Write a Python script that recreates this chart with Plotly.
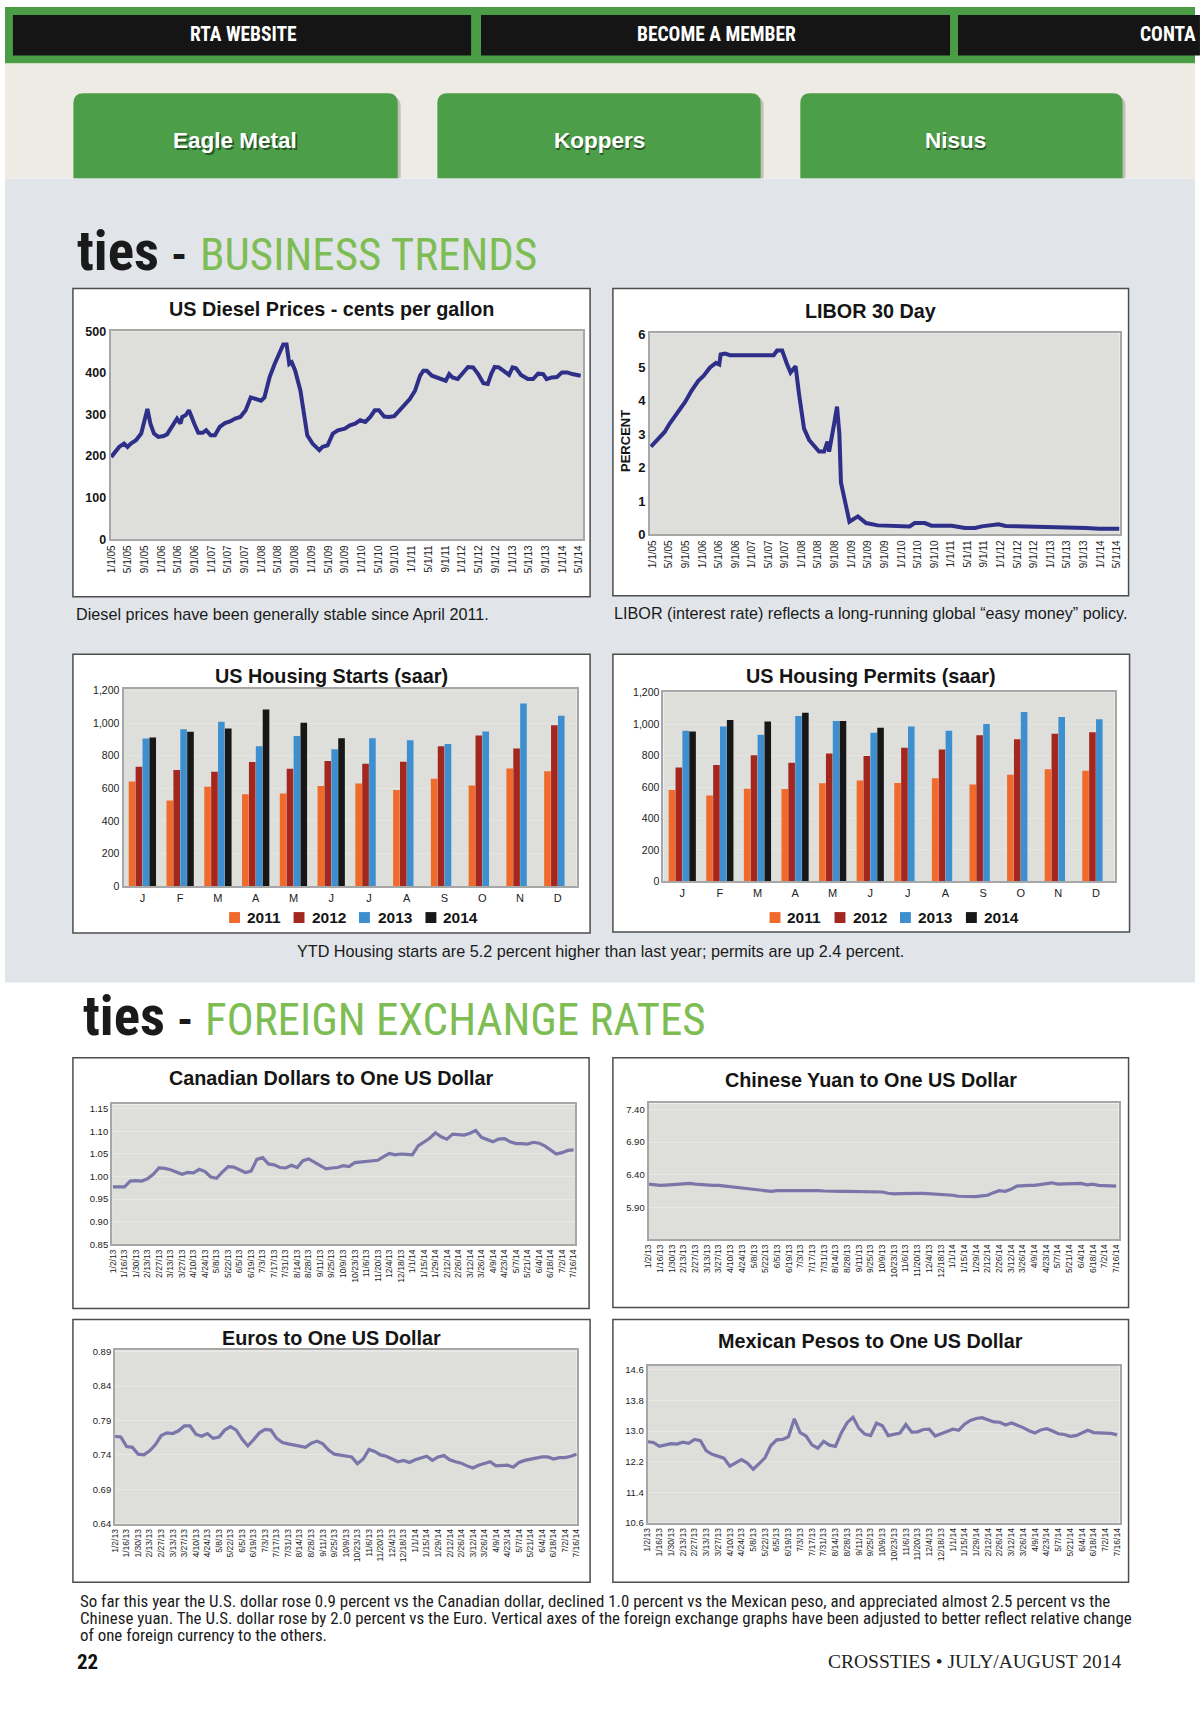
import plotly.graph_objects as go
import pandas as pd

W, H = 1200, 1729
SANS = "Liberation Sans, Arial, Helvetica, sans-serif"
NARROW = "Liberation Sans Narrow, Roboto Condensed, DejaVu Sans Condensed, Liberation Sans, sans-serif"
SERIF = "Liberation Serif, Times New Roman, serif"

# ---------------- data ----------------
diesel_dates = [
    "2005-01-01", "2005-02-03", "2005-02-27", "2005-04-04", "2005-04-29", "2005-05-24", "2005-06-30",
    "2005-08-07", "2005-09-01", "2005-09-21", "2005-10-13", "2005-11-08", "2005-12-10",
    "2006-01-17", "2006-02-11", "2006-03-18", "2006-04-25", "2006-05-20", "2006-06-02", "2006-06-26",
    "2006-07-21", "2006-08-28", "2006-09-27", "2006-10-29", "2006-11-23", "2006-12-26",
    "2007-01-26", "2007-03-02", "2007-04-09", "2007-05-16", "2007-06-23", "2007-07-30", "2007-09-07",
    "2007-10-14", "2007-11-20", "2007-12-28",
    "2008-01-22", "2008-02-28", "2008-04-05", "2008-05-12", "2008-06-07", "2008-07-01", "2008-07-21",
    "2008-08-08", "2008-09-02", "2008-10-10", "2008-11-04", "2008-11-29",
    "2009-01-06", "2009-02-25", "2009-03-19", "2009-04-26", "2009-06-03", "2009-07-10", "2009-08-29",
    "2009-10-06", "2009-11-12", "2009-12-19",
    "2010-01-26", "2010-03-03", "2010-04-05", "2010-05-05", "2010-06-12", "2010-07-18", "2010-08-25",
    "2010-10-02", "2010-11-09", "2010-12-16",
    "2011-01-23", "2011-03-01", "2011-03-25", "2011-04-19", "2011-05-26", "2011-07-15", "2011-09-04",
    "2011-09-29", "2011-10-23", "2011-11-30",
    "2012-01-07", "2012-02-13", "2012-03-21", "2012-04-27", "2012-06-04", "2012-07-06", "2012-07-31",
    "2012-08-25", "2012-09-25", "2012-11-01", "2012-12-08",
    "2013-01-03", "2013-01-28", "2013-03-05", "2013-04-24", "2013-06-01", "2013-07-08", "2013-08-14",
    "2013-09-08", "2013-10-16", "2013-11-22", "2013-12-29",
    "2014-02-05", "2014-03-13", "2014-04-20", "2014-05-14",
]
diesel_cents = [
    198, 210, 222, 230, 222, 230, 238, 254, 286, 313, 278, 254, 246,
    248, 252, 270, 290, 278, 294, 298, 310, 278, 256, 256, 262, 250,
    250, 270, 279, 283, 290, 294, 310, 341, 337, 333,
    341, 389, 421, 452, 468, 468, 421, 425, 405, 357, 302, 250,
    230, 214, 222, 226, 254, 262, 266, 274, 278, 286,
    282, 294, 310, 310, 295, 294, 296, 310, 321, 337,
    357, 393, 405, 405, 393, 387, 381, 397, 389, 385,
    401, 414, 413, 397, 375, 373, 397, 414, 413, 403, 395,
    413, 411, 395, 385, 385, 398, 397, 385, 389, 390, 401,
    401, 397, 395, 393,
]

libor_dates = [
    "2004-12-20", "2005-02-24", "2005-03-31", "2005-05-07", "2005-06-26", "2005-08-27", "2005-10-15",
    "2005-12-03", "2006-01-10", "2006-02-27", "2006-04-12", "2006-05-06", "2006-05-16", "2006-06-17",
    "2006-07-24", "2006-11-01", "2007-03-02", "2007-06-09", "2007-07-04", "2007-08-10", "2007-09-16",
    "2007-10-11", "2007-10-30", "2007-11-17", "2007-12-12", "2007-12-29", "2008-01-18", "2008-02-24",
    "2008-04-01", "2008-05-07", "2008-06-13", "2008-07-08", "2008-07-20", "2008-08-07", "2008-08-26",
    "2008-09-16", "2008-10-03", "2008-10-15", "2008-11-09", "2008-12-16", "2009-02-16", "2009-04-17",
    "2009-07-12", "2009-11-13", "2010-03-03", "2010-04-09", "2010-06-22", "2010-08-10", "2011-01-06",
    "2011-04-13", "2011-06-26", "2011-08-14", "2011-10-27", "2011-12-16", "2012-02-04", "2012-07-24",
    "2013-03-27", "2013-09-17", "2013-12-24", "2014-05-20",
]
libor_pct = [
    2.63, 2.91, 3.07, 3.32, 3.62, 3.96, 4.31, 4.60, 4.75, 5.00,
    5.14, 5.09, 5.39, 5.42, 5.37, 5.37, 5.37, 5.37, 5.51, 5.51,
    5.09, 4.85, 4.95, 5.04, 4.21, 3.71, 3.17, 2.83, 2.63, 2.48,
    2.48, 2.78, 2.48, 2.83, 3.32, 3.83, 3.03, 1.55, 1.05, 0.38,
    0.54, 0.34, 0.27, 0.24, 0.24, 0.34, 0.34, 0.26, 0.26, 0.19,
    0.19, 0.24, 0.27, 0.30, 0.25, 0.24, 0.22, 0.19, 0.17, 0.17,
]

months = ["Jan", "Feb", "Mar", "Apr", "May", "Jun", "Jul", "Aug", "Sep", "Oct", "Nov", "Dec"]
month_letters = ["J", "F", "M", "A", "M", "J", "J", "A", "S", "O", "N", "D"]
years = ["2011", "2012", "2013", "2014"]
year_colors = ["#ef6a2b", "#a3271f", "#3e8fd0", "#171717"]

starts_2011 = [641, 525, 610, 563, 569, 614, 630, 590, 659, 618, 722, 704]
starts_2012 = [732, 712, 702, 761, 720, 767, 750, 763, 858, 923, 844, 986]
starts_2013 = [905, 962, 1007, 858, 921, 840, 907, 895, 872, 948, 1119, 1045]
starts_2014 = [911, 946, 966, 1082, 1001, 907, None, None, None, None, None, None]

permits_2011 = [582, 547, 589, 587, 624, 641, 626, 656, 616, 678, 714, 704]
permits_2012 = [724, 741, 802, 754, 814, 797, 850, 839, 929, 904, 939, 948]
permits_2013 = [958, 985, 933, 1052, 1021, 946, 985, 958, 1002, 1077, 1046, 1031]
permits_2014 = [954, 1027, 1017, 1073, 1021, 977, None, None, None, None, None, None]

# weekly readings, Wednesdays from 1/2/13 to 7/16/14
fx_weeks = pd.date_range("2013-01-02", "2014-07-16", freq="7D")

cad_per_usd = [
    0.977, 0.977, 0.977, 0.990, 0.991, 0.990, 0.995, 1.005, 1.019, 1.018,
    1.015, 1.010, 1.005, 1.009, 1.008, 1.016, 1.011, 0.999, 0.996, 1.010,
    1.022, 1.021, 1.014, 1.009, 1.012, 1.038, 1.042, 1.028, 1.026, 1.020,
    1.019, 1.025, 1.020, 1.035, 1.039, 1.032, 1.024, 1.017, 1.019, 1.020,
    1.024, 1.022, 1.031, 1.032, 1.033, 1.034, 1.036, 1.044, 1.051, 1.048,
    1.050, 1.049, 1.048, 1.068, 1.077, 1.085, 1.097, 1.088, 1.083, 1.094,
    1.093, 1.092, 1.096, 1.102, 1.087, 1.082, 1.077, 1.083, 1.084, 1.077,
    1.073, 1.073, 1.072, 1.076, 1.074, 1.068, 1.058, 1.050, 1.053, 1.058,
    1.059,
]
cny_per_usd = [
    6.26, 6.25, 6.24, 6.245, 6.25, 6.255, 6.26, 6.27, 6.26, 6.25,
    6.24, 6.24, 6.24, 6.23, 6.22, 6.205, 6.20, 6.18, 6.175, 6.17,
    6.16, 6.15, 6.16, 6.16, 6.16, 6.17, 6.165, 6.16, 6.16, 6.16,
    6.155, 6.15, 6.15, 6.15, 6.15, 6.15, 6.15, 6.15, 6.15, 6.15,
    6.14, 6.12, 6.11, 6.115, 6.12, 6.12, 6.12, 6.12, 6.115, 6.10,
    6.10, 6.10, 6.09, 6.075, 6.07, 6.07, 6.07, 6.08, 6.09, 6.13,
    6.16, 6.15, 6.18, 6.23, 6.24, 6.24, 6.24, 6.25, 6.27, 6.28,
    6.26, 6.26, 6.26, 6.27, 6.27, 6.25, 6.26, 6.24, 6.235, 6.23,
    6.23,
]
eur_per_usd = [
    0.767, 0.766, 0.752, 0.751, 0.741, 0.740, 0.746, 0.755, 0.768, 0.772,
    0.771, 0.775, 0.782, 0.782, 0.770, 0.767, 0.771, 0.764, 0.766, 0.776,
    0.781, 0.776, 0.763, 0.753, 0.762, 0.772, 0.777, 0.776, 0.764, 0.758,
    0.756, 0.754, 0.753, 0.751, 0.757, 0.760, 0.756, 0.747, 0.741, 0.740,
    0.739, 0.737, 0.727, 0.734, 0.748, 0.745, 0.740, 0.738, 0.734, 0.730,
    0.732, 0.729, 0.733, 0.736, 0.738, 0.732, 0.737, 0.739, 0.733, 0.730,
    0.728, 0.724, 0.721, 0.725, 0.728, 0.730, 0.724, 0.724, 0.725, 0.722,
    0.729, 0.732, 0.734, 0.736, 0.737, 0.737, 0.734, 0.736, 0.736, 0.738,
    0.741,
]
mxn_per_usd = [
    12.72, 12.70, 12.60, 12.64, 12.67, 12.66, 12.71, 12.68, 12.78, 12.75,
    12.48, 12.39, 12.33, 12.29, 12.08, 12.16, 12.25, 12.16, 12.00, 12.15,
    12.30, 12.62, 12.77, 12.78, 12.85, 13.32, 12.96, 12.87, 12.64, 12.55,
    12.73, 12.63, 12.60, 12.95, 13.22, 13.36, 13.07, 12.92, 12.88, 13.21,
    13.14, 12.88, 12.91, 12.95, 13.17, 12.97, 12.98, 13.04, 13.05, 12.87,
    12.93, 12.98, 13.05, 13.02, 13.18, 13.28, 13.33, 13.35, 13.29, 13.24,
    13.23, 13.16, 13.21, 13.16, 13.09, 13.01, 12.95, 13.03, 13.06, 13.00,
    12.93, 12.91, 12.86, 12.88, 12.96, 13.02, 12.96, 12.95, 12.94, 12.94,
    12.90,
]

# ---------------- helpers ----------------
def fx(x):
    return x / W


def fy(y):
    return 1 - y / H


shapes = []
annotations = []


def rect(x0, y0, x1, y1, fill, line_color="rgba(0,0,0,0)", line_width=0):
    shapes.append(dict(type="rect", xref="paper", yref="paper",
                       x0=fx(x0), x1=fx(x1), y0=fy(y1), y1=fy(y0),
                       fillcolor=fill, line=dict(color=line_color, width=line_width),
                       layer="below"))


def rounded_top(x0, y0, x1, y1, r, fill):
    X0, X1, YT, YB = fx(x0), fx(x1), fy(y0), fy(y1)
    rx, ry = r / W, r / H
    path = (f"M {X0},{YB} L {X0},{YT - ry} Q {X0},{YT} {X0 + rx},{YT} "
            f"L {X1 - rx},{YT} Q {X1},{YT} {X1},{YT - ry} L {X1},{YB} Z")
    shapes.append(dict(type="path", xref="paper", yref="paper", path=path,
                       fillcolor=fill, line=dict(width=0), layer="below"))


def text(x, y, s, size, color="#111111", family=SANS, weight="normal",
         xanchor="center", yanchor="middle", angle=0):
    annotations.append(dict(x=fx(x), y=fy(y), xref="paper", yref="paper", text=s,
                            showarrow=False, xanchor=xanchor, yanchor=yanchor,
                            textangle=angle,
                            font=dict(size=size, color=color, family=family, weight=weight)))


# ---------------- page decoration ----------------
rect(0, 0, 1200, 57, "#4a9d45")
for (a, b) in [(8, 470), (480, 953), (961, 1205)]:
    rect(a, 8, b, 49, "#151515")
text(240, 28, "RTA WEBSITE", 19.5, "#ffffff", NARROW, "bold")
text(717, 28, "BECOME A MEMBER", 19.5, "#ffffff", NARROW, "bold")
text(1143, 28, "CONTA", 19.5, "#ffffff", NARROW, "bold", xanchor="left")

rect(0, 57, 1200, 173, "#eeebe5")
for (a, b, label, cx) in [(69, 396, "Eagle Metal", 232), (436, 762, "Koppers", 599),
                          (802, 1127, "Nisus", 958)]:
    rounded_top(a + 3, 90, b + 3, 173, 10, "rgba(0,0,0,0.18)")
    rounded_top(a, 87, b, 173, 10, "#4c9f48")
    text(cx + 1.5, 136.5, label, 22.5, "rgba(0,0,0,0.45)", SANS, "bold")
    text(cx, 135, label, 22.5, "#ffffff", SANS, "bold")

rect(0, 173, 1200, 984, "#e1e5e9")

# section headings
GREEN_TXT = "#7ebd53"
HEAD = 45
text(71, 280, "ties", 55, "#1a1a1a", NARROW, "bold", xanchor="left", yanchor="bottom")
text(165, 278.5, "-", HEAD, "#1a1a1a", NARROW, "bold", xanchor="left", yanchor="bottom")
text(195, 278.5, "BUSINESS TRENDS", HEAD, GREEN_TXT, NARROW, "normal", xanchor="left", yanchor="bottom")
text(77, 1052, "ties", 55, "#1a1a1a", NARROW, "bold", xanchor="left", yanchor="bottom")
text(171, 1050.5, "-", HEAD, "#1a1a1a", NARROW, "bold", xanchor="left", yanchor="bottom")
text(199.5, 1050.5, "FOREIGN EXCHANGE RATES", HEAD, GREEN_TXT, NARROW, "normal",
     xanchor="left", yanchor="bottom")

# chart boxes
boxes = [
    (68.5, 284, 590, 595), (613, 284, 1133, 594),
    (68.5, 653, 590, 934), (613, 653, 1134, 933),
    (68.5, 1060, 589, 1313), (613, 1060, 1133, 1312),
    (68.5, 1324, 590, 1589), (613, 1324, 1133, 1589),
]
for (a, b, c, d) in boxes:
    rect(a, b, c, d, "#ffffff", "#4d4d4d", 1.5)

# plot areas (px)
plot_px = {
    1: ([106.5, 583], [327, 537]),
    2: ([650.5, 1124], [329, 532]),
    3: ([119.5, 576.5], [688, 887]),
    4: ([664, 1119], [690.5, 882]),
    5: ([108, 575], [1107, 1248]),
    6: ([649, 1123], [1106, 1243]),
    7: ([111, 576.5], [1355, 1530]),
    8: ([648, 1124], [1371, 1529]),
}
PLOT_BG = "#dededa"
for i, (xd, yd) in plot_px.items():
    rect(xd[0], yd[0], xd[1], yd[1], PLOT_BG)

# titles
TITLE = 19.8
text(329, 305, "US Diesel Prices - cents per gallon", TITLE, "#151515", SANS, "bold")
text(873, 307, "LIBOR 30 Day", TITLE, "#151515", SANS, "bold")
text(329, 675, "US Housing Starts (saar)", TITLE, "#151515", SANS, "bold")
text(873, 675, "US Housing Permits (saar)", TITLE, "#151515", SANS, "bold")
text(329, 1080, "Canadian Dollars to One US Dollar", TITLE, "#151515", SANS, "bold")
text(873, 1082, "Chinese Yuan to One US Dollar", TITLE, "#151515", SANS, "bold")
text(329, 1343, "Euros to One US Dollar", TITLE, "#151515", SANS, "bold")
text(873, 1346, "Mexican Pesos to One US Dollar", TITLE, "#151515", SANS, "bold")
text(625, 438, "PERCENT", 13, "#151515", SANS, "bold", angle=-90)

# captions
CAP = 16.2
text(70, 612, "Diesel prices have been generally stable since April 2011.", CAP, "#1a1a1a", xanchor="left")
text(612, 611, "LIBOR (interest rate) reflects a long-running global \u201ceasy money\u201d policy.", CAP,
     "#1a1a1a", xanchor="left")
text(601, 952, "YTD Housing starts are 5.2 percent higher than last year; permits are up 2.4 percent.",
     CAP, "#1a1a1a")

para = [
    "So far this year the U.S. dollar rose 0.9 percent vs the Canadian dollar, declined 1.0 percent vs the Mexican peso, and appreciated almost 2.5 percent vs the",
    "Chinese yuan. The U.S. dollar rose by 2.0 percent vs the Euro. Vertical axes of the foreign exchange graphs have been adjusted to better reflect relative change",
    "of one foreign currency to the others.",
]
for line, yy in zip(para, [1608, 1625, 1642]):
    text(74, yy, line, 16.9, "#1a1a1a", NARROW, xanchor="left")
text(71, 1669, "22", 21, "#111111", NARROW, "bold", xanchor="left")
text(1128, 1669, "CROSSTIES \u2022 JULY/AUGUST 2014", 19.5, "#222222", SERIF, xanchor="right")

# legends for housing charts (swatches + labels)
for sq_xs, txt_xs in [([226, 291, 357, 424], [242, 308, 374, 440]),
                      ([771, 836.5, 902.5, 969], [787, 853, 919, 985])]:
    for k in range(4):
        rect(sq_xs[k], 913, sq_xs[k] + 11, 924, year_colors[k])
        text(txt_xs[k], 918.5, years[k], 15.5, "#151515", SANS, "bold", xanchor="left")

# ---------------- traces ----------------
fig = go.Figure()
NAVY = "#2e2f88"
PURPLE = "#7a76aa"

fig.add_trace(go.Scatter(x=diesel_dates, y=diesel_cents, mode="lines", xaxis="x", yaxis="y",
                         line=dict(color=NAVY, width=4), showlegend=False, name="Diesel"))
fig.add_trace(go.Scatter(x=libor_dates, y=libor_pct, mode="lines", xaxis="x2", yaxis="y2",
                         line=dict(color=NAVY, width=4), showlegend=False, name="LIBOR"))

for k, series in enumerate([starts_2011, starts_2012, starts_2013, starts_2014]):
    fig.add_trace(go.Bar(x=months, y=series, xaxis="x3", yaxis="y3", name=years[k],
                         marker=dict(color=year_colors[k], line=dict(width=0)), showlegend=False,
                         offsetgroup=str(k)))
for k, series in enumerate([permits_2011, permits_2012, permits_2013, permits_2014]):
    fig.add_trace(go.Bar(x=months, y=series, xaxis="x4", yaxis="y4", name=years[k],
                         marker=dict(color=year_colors[k], line=dict(width=0)), showlegend=False,
                         offsetgroup=str(k)))

for idx, series, nm in [(5, cad_per_usd, "CAD"), (6, cny_per_usd, "CNY"),
                        (7, eur_per_usd, "EUR"), (8, mxn_per_usd, "MXN")]:
    fig.add_trace(go.Scatter(x=fx_weeks, y=series, mode="lines", xaxis=f"x{idx}", yaxis=f"y{idx}",
                             line=dict(color=PURPLE, width=3.2), showlegend=False, name=nm))

# ---------------- axes ----------------
BORDER = "#a7a7a7"
layout = dict(
    width=W, height=H, autosize=False,
    margin=dict(l=0, r=0, t=0, b=0, pad=0),
    paper_bgcolor="#ffffff", plot_bgcolor="rgba(0,0,0,0)",
    barmode="group", bargap=0.27, bargroupgap=0.04,
    shapes=shapes, annotations=annotations, showlegend=False,
    font=dict(family=SANS, color="#222222"),
)


def axname(prefix, i):
    return prefix if i == 1 else f"{prefix}{i}"


for i, (xd, yd) in plot_px.items():
    layout[axname("xaxis", i)] = dict(
        domain=[fx(xd[0]), fx(xd[1])], anchor=axname("y", i),
        showline=True, mirror=True, linecolor=BORDER, linewidth=2,
        ticks="", showgrid=False, zeroline=False, fixedrange=True,
    )
    layout[axname("yaxis", i)] = dict(
        domain=[fy(yd[1]), fy(yd[0])], anchor=axname("x", i),
        showline=True, mirror=True, linecolor=BORDER, linewidth=2,
        ticks="", showgrid=False, zeroline=False, fixedrange=True,
    )

# diesel
layout["xaxis"].update(type="date", range=["2004-12-27", "2014-06-01"], tick0="2005-01-01", dtick="M4",
                       tickformat="%-m/%-d/%y", tickangle=-90, tickfont=dict(size=10, color="#222"))
layout["yaxis"].update(range=[0, 500], dtick=100, tickfont=dict(size=12.5, color="#151515", weight="bold"))
# libor
layout["xaxis2"].update(type="date", range=["2004-12-14", "2014-05-22"], tick0="2005-01-01", dtick="M4",
                        tickformat="%-m/%-d/%y", tickangle=-90, tickfont=dict(size=10, color="#222"))
layout["yaxis2"].update(range=[0, 6.03], dtick=1, tickfont=dict(size=13, color="#151515", weight="bold"))
# housing
for i in (3, 4):
    layout[axname("xaxis", i)].update(type="category", tickvals=months, ticktext=month_letters,
                                      tickfont=dict(size=11, color="#222"))
    layout[axname("yaxis", i)].update(range=[0, 1208], tickvals=[0, 200, 400, 600, 800, 1000, 1200],
                                      tickformat=",d", tickfont=dict(size=10.5, color="#222"),
                                      showgrid=True, gridcolor="#e5e5e2", gridwidth=1)
# fx
for i in (5, 6, 7, 8):
    layout[axname("xaxis", i)].update(type="date", tick0="2013-01-02", dtick=14 * 86400000,
                                      tickformat="%-m/%-d/%y", tickangle=-90,
                                      tickfont=dict(size=8.5, color="#222"))
    layout[axname("yaxis", i)].update(showgrid=True, gridcolor="#e8e8e5", gridwidth=1,
                                      tickfont=dict(size=9.5, color="#222"))
layout["xaxis5"].update(range=["2013-01-01", "2014-07-18"])
layout["yaxis5"].update(range=[0.85, 1.16], tick0=0.85, dtick=0.05, tickformat=".2f")
layout["xaxis6"].update(range=["2013-01-02", "2014-07-19"])
layout["yaxis6"].update(range=[5.42, 7.49], tickvals=[5.90, 6.40, 6.90, 7.40], tickformat=".2f")
layout["xaxis7"].update(range=["2013-01-02", "2014-07-16"])
layout["yaxis7"].update(range=[0.64, 0.892], tick0=0.64, dtick=0.05, tickformat=".2f")
layout["xaxis8"].update(range=["2013-01-02", "2014-07-19"])
layout["yaxis8"].update(range=[10.6, 14.7], tick0=10.6, dtick=0.8, tickformat=".1f")

fig.update_layout(**layout)
fig.write_html(
    "out.html",
    config=dict(displayModeBar=False),
    post_script=(
        "document.documentElement.style.margin='0';"
        "document.body.style.margin='0';document.body.style.padding='0';"
        "document.documentElement.style.overflow='hidden';document.body.style.overflow='hidden';"
        "var gd=document.getElementById('{plot_id}');"
        "gd.style.position='absolute';gd.style.left='0px';gd.style.top='0px';"
    ),
)
